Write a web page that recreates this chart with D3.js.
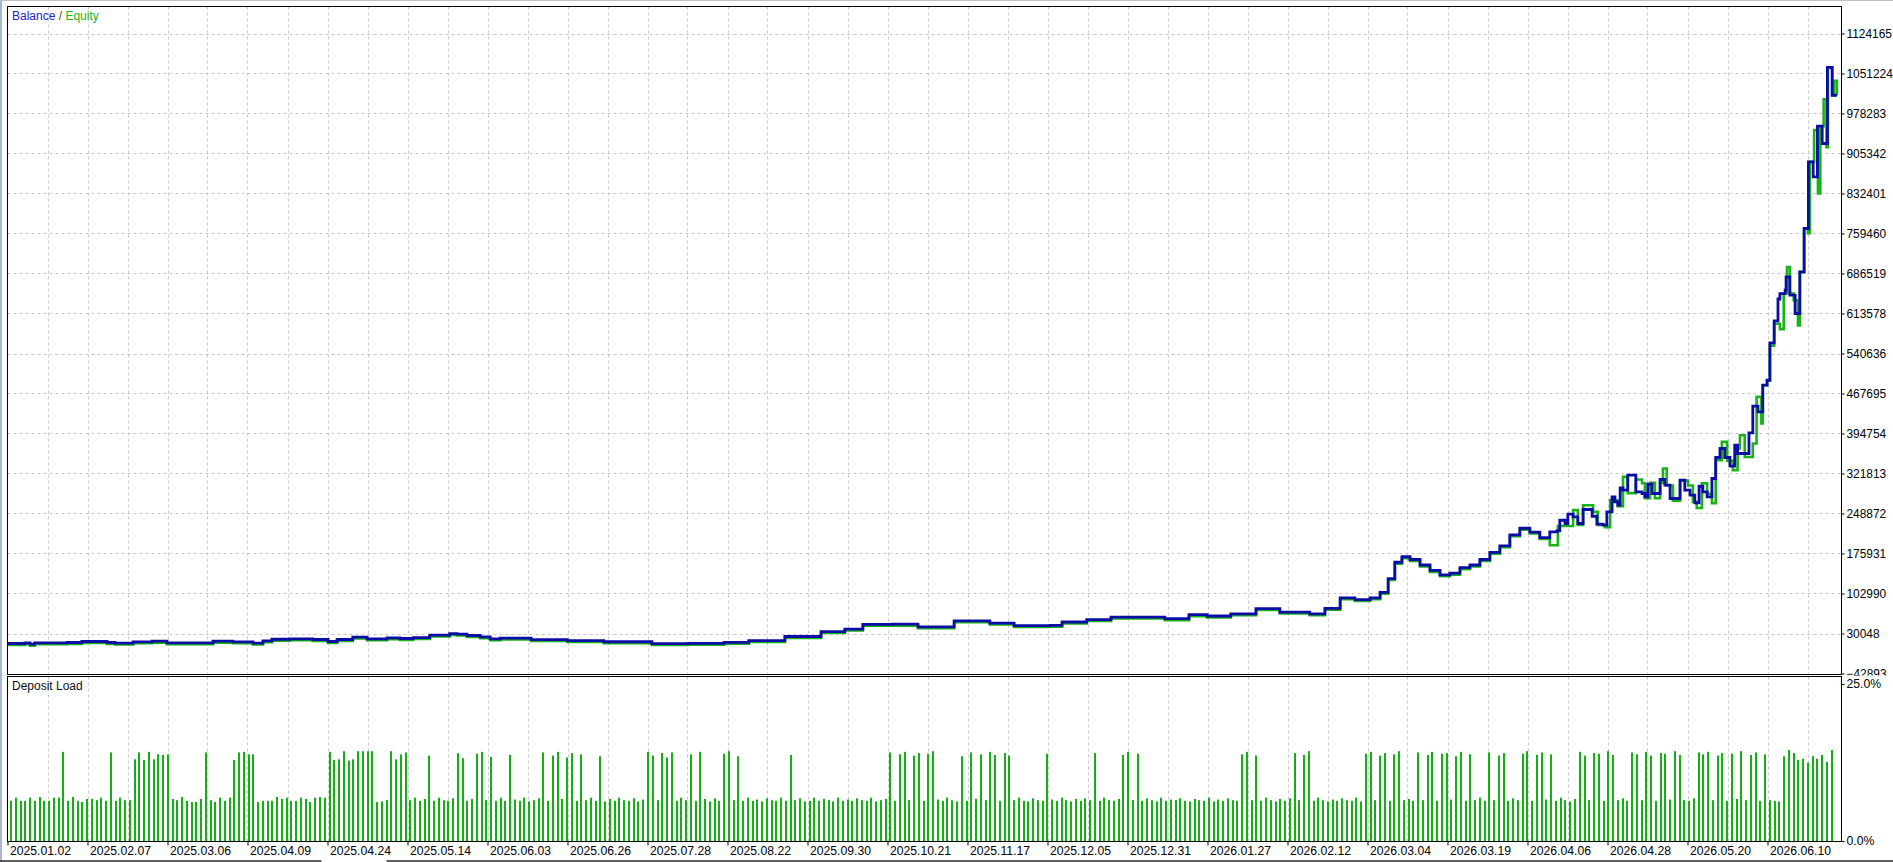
<!DOCTYPE html>
<html><head><meta charset="utf-8">
<script src="https://cdn.jsdelivr.net/npm/d3@7"></script>
<style>
html,body{margin:0;padding:0;background:#fff;overflow:hidden;}
svg{display:block;}
text{font-family:"Liberation Sans",Arial,sans-serif;}
</style></head><body>
<svg id="c" width="1893" height="862"></svg>
<script>
// ---------------- DATA ----------------
const dateLabels = ["2025.01.02","2025.02.07","2025.03.06","2025.04.09","2025.04.24","2025.05.14","2025.06.03","2025.06.26","2025.07.28","2025.08.22","2025.09.30","2025.10.21","2025.11.17","2025.12.05","2025.12.31","2026.01.27","2026.02.12","2026.03.04","2026.03.19","2026.04.06","2026.04.28","2026.05.20","2026.06.10"];
const valueTicks = [-42893,30048,102990,175931,248872,321813,394754,467695,540636,613578,686519,759460,832401,905342,978283,1051224,1124165];
const loadTicks = [0, 25];

// balance: trade position -> balance
const balT = [-0.8,2.9,4.0,5.0,11.8,14.9,20.2,21.9,25.7,29.7,
32.8,42.5,46.7,50.9,53.0,54.9,58.7,63.5,66.7,68.6,
71.9,74.9,79.1,81.8,84.6,88.1,92.3,93.8,95.9,98.7,
100.8,102.9,109.4,117.0,124.7,134.8,142.4,150.0,155.2,162.8,
170.4,175.4,179.2,185.5,190.8,198.4,205.9,211.0,218.6,221.1,
226.3,231.4,239.0,242.7,247.8,251.6,256.6,261.9,266.9,273.2,
276.4,279.6,282.7,285.9,288.0,289.7,291.1,292.6,294.3,296.4,
298.5,300.6,302.7,304.8,306.9,309.0,311.1,313.2,315.3,317.4,
319.5,321.6,323.7,325.2,325.8,326.9,327.5,328.6,329.6,330.7,
332.6,333.6,334.9,335.7,336.8,337.4,338.0,338.5,339.1,340.1,
341.8,343.1,343.7,344.3,345.2,346.9,347.9,349.0,351.1,352.1,
353.2,354.2,355.1,355.9,356.8,357.8,358.6,359.5,360.5,361.6,
362.6,363.2,365.6,366.4,367.5,368.5,369.4,370.0,370.9,371.7,
372.1,373.2,373.4,374.2,375.3,376.3,377.2,378.1,379.1,380.0,
381.0,382.1,383.1,384.1];
const balV = [11800,12900,10500,12900,13600,15500,13600,12400,14800,16000,
12900,16000,14800,12400,16600,19600,20200,19100,15500,19100,
23300,20200,22000,20900,22700,27000,30000,28800,26400,23900,
20200,21500,19000,17000,15000,11500,12000,14000,17000,24600,
33500,37900,46600,47000,42300,53200,49000,44400,45000,51000,
55500,59800,60000,57000,64300,62000,66000,75300,68900,66000,
76000,95000,92000,95000,105000,130000,160000,170000,165000,155000,
145000,137000,140000,150000,155000,165000,178000,190000,210000,222000,
215000,205000,215300,217100,236600,230600,247600,242700,230600,256200,
243900,229400,227500,251800,279100,270000,264000,295600,291400,318700,
288300,285300,279100,302300,285300,310900,300500,276200,309600,291400,
282200,268200,298600,288300,279100,312700,351000,367400,351000,335100,
373400,358300,395800,444500,434100,482800,491900,560000,600000,640000,
650000,656000,680300,647000,613600,689400,768600,890100,862700,955100,
923600,1062200,1011600,1011600];

// equity: trade position -> equity
const eqT = [-0.8,2.9,4.0,5.0,11.8,14.9,20.2,21.9,25.7,29.7,
32.8,42.5,46.7,50.9,53.0,54.9,58.7,63.5,66.7,68.6,
71.9,74.9,79.1,81.8,84.6,88.1,92.3,93.8,95.9,98.7,
100.8,102.9,109.4,117.0,124.7,134.8,142.4,150.0,155.2,162.8,
170.4,175.4,179.2,185.5,190.8,198.4,205.9,211.0,218.6,221.1,
226.3,231.4,239.0,242.7,247.8,251.6,256.6,261.9,266.9,273.2,
276.4,279.6,282.7,285.9,288.0,289.7,291.1,292.6,294.3,296.4,
298.5,300.6,302.7,304.8,306.9,309.0,311.1,313.2,315.3,317.4,
319.5,321.6,323.7,325.4,328.6,329.6,330.7,331.7,332.8,333.8,
335.3,336.4,338.0,339.1,340.1,341.8,343.1,343.7,344.8,345.8,
346.9,347.5,348.3,349.6,351.1,352.8,353.8,354.6,355.7,356.8,
357.8,358.6,359.9,361.0,362.2,363.2,363.7,364.7,366.4,367.2,
368.2,368.5,369.4,370.0,370.9,372.1,372.9,373.6,374.2,375.0,
375.9,376.3,377.2,378.0,378.4,379.3,380.1,380.6,381.3,381.9,
382.2,383.1,383.5,384.1];
const eqV = [9300,10400,8000,10400,11100,13000,11100,9900,12300,13500,
10400,13500,12300,9900,14100,17100,17700,16600,13000,16600,
20800,17700,19500,18400,20200,24500,27500,26300,23900,21400,
17700,19000,16500,14500,12500,9000,9500,11500,14500,22100,
31000,35400,44100,44500,39800,50700,46500,41900,42500,48500,
53000,57300,57500,54500,61800,59500,63500,72800,66400,63500,
73500,92500,89500,92500,102500,127500,157500,167500,162500,152500,
142500,134500,137500,147500,152500,162500,175500,187500,207500,219500,
212500,202500,191000,226000,255000,228000,264000,264000,251800,228000,
224000,273000,262000,315600,286000,311000,304000,276700,304700,276700,
305000,331000,300000,272000,309000,300000,270000,259000,304000,285000,
267600,346000,379400,345000,327800,367400,391600,352000,376500,461500,
413000,482800,491900,555000,595000,585000,650000,698500,650000,638000,
592000,689000,768600,760000,890000,948000,832500,955000,1004000,917000,
1062000,1011600,1038000,1011600];

// deposit load per trade, %
const load = [6.4,6.9,6.4,6.4,6.9,6.4,7.0,6.4,6.4,6.9,
6.9,14.2,6.4,7.0,6.4,6.2,6.7,6.7,6.5,6.9,
6.4,14.1,6.4,6.9,6.5,6.5,13.0,14.1,12.9,14.2,
13.0,13.8,13.7,13.8,6.7,6.5,7.0,6.4,6.2,6.2,
6.7,14.1,6.5,6.2,6.9,6.4,6.9,12.9,14.1,14.2,
13.8,13.8,6.2,6.4,6.4,6.4,7.0,6.7,6.9,6.4,
6.4,6.9,6.7,6.2,6.9,7.0,6.9,14.2,12.9,13.0,
14.3,12.8,13.0,14.3,14.3,14.3,14.3,6.2,6.3,6.5,
14.3,13.0,13.8,14.1,6.5,6.9,6.4,6.7,13.6,6.4,
6.9,6.5,6.4,6.8,14.0,13.2,6.4,6.7,13.9,14.2,
6.5,13.4,6.4,6.9,6.4,13.7,6.6,6.4,6.9,6.3,
6.5,6.8,14.1,6.4,13.6,14.2,6.7,13.3,14.0,6.4,
13.8,6.5,6.9,6.4,13.5,6.3,6.7,6.4,6.9,6.5,
6.4,6.8,6.3,6.6,14.2,13.6,6.5,14.0,13.3,14.1,
6.4,6.9,6.5,13.8,6.4,14.2,6.7,6.3,6.8,6.4,
13.9,14.3,6.5,13.5,6.4,6.9,6.4,6.6,6.3,6.8,
6.5,6.4,6.9,6.4,13.7,6.5,6.8,6.3,6.4,6.9,
6.4,6.7,6.5,6.3,6.9,6.4,6.6,6.4,6.8,6.5,
6.4,6.9,6.3,6.5,6.7,14.1,6.4,13.8,14.2,6.5,
13.6,14.0,6.4,13.9,14.3,6.6,6.4,6.9,6.5,6.3,
13.5,6.4,14.1,6.7,13.8,6.5,14.2,13.7,6.4,14.0,
13.6,6.5,6.9,6.4,6.3,6.8,6.5,6.4,13.9,6.6,
6.4,6.9,6.5,6.3,6.7,6.4,6.8,6.5,14.0,6.4,
6.9,6.5,6.4,6.7,13.7,14.2,6.5,13.9,6.4,6.8,
6.5,6.3,6.9,6.4,6.6,6.5,6.8,6.4,6.3,6.7,
6.5,6.4,6.9,6.3,6.6,6.4,6.8,6.5,6.4,13.8,
14.2,6.5,13.6,6.4,6.9,6.5,6.3,6.7,6.4,6.8,
14.0,6.5,13.7,14.3,6.4,6.9,6.5,6.3,6.6,6.4,
6.8,6.5,6.4,6.9,6.3,13.9,14.2,6.5,13.6,14.0,
6.4,13.8,14.3,6.5,6.7,6.4,14.1,6.5,13.7,14.2,
6.4,13.9,14.0,6.6,13.5,14.2,6.4,13.8,6.5,6.9,
6.4,14.1,6.5,13.6,14.0,6.4,6.8,6.5,13.9,14.3,
6.4,13.7,14.1,6.6,13.8,6.4,6.9,6.5,6.3,6.7,
14.2,13.6,6.5,14.0,13.9,6.4,14.3,13.7,6.5,6.8,
6.4,14.1,13.8,6.5,14.2,13.6,6.4,14.0,13.9,6.6,
14.3,13.7,6.5,6.4,6.8,14.1,13.8,14.2,6.5,13.6,
14.0,6.4,13.9,6.7,14.3,6.5,13.7,14.1,6.4,13.8,
6.5,6.4,6.3,13.5,14.5,14.0,12.9,13.1,12.5,13.5,
13.1,13.7,12.6,14.5];

// ---------------- LAYOUT ----------------
const svg = d3.select('#c');
const L = 7.5, R = 1841.5, T1 = 6.5, B1 = 674.5, T2 = 676.5, B2 = 841.5;
const GRID = '#c8c8c8';
const FONT = 12.2;
const FONT_R = 11.9;
const FF = '"Liberation Sans",Arial,sans-serif';

const x = d3.scaleLinear().domain([0, load.length - 1]).range([11, 1831.7]);
const y = d3.scaleLinear().domain([valueTicks[0], valueTicks[valueTicks.length - 1]]).range([673.5, 33.5]);
const yL = d3.scaleLinear().domain([0, 25]).range([841, 684]);

// outer window decorations
svg.append('rect').attr('x', 0).attr('y', 0).attr('width', 1893).attr('height', 862).attr('fill', '#fff');
svg.append('line').attr('x1', 0).attr('x2', 1893).attr('y1', 0.5).attr('y2', 0.5).attr('stroke', '#c0c0c0');
svg.append('rect').attr('x', 0).attr('y', 0).attr('width', 2).attr('height', 862).attr('fill', '#a9b6cb');
svg.append('line').attr('x1', 0).attr('x2', 321.5).attr('y1', 861).attr('y2', 861).attr('stroke', '#2a2a2a').attr('stroke-width', 1.5);
svg.append('line').attr('x1', 386.5).attr('x2', 1893).attr('y1', 861).attr('y2', 861).attr('stroke', '#2a2a2a').attr('stroke-width', 1.5);

// clip paths
const defs = svg.append('defs');
defs.append('clipPath').attr('id', 'clipMain').append('rect').attr('x', L).attr('y', T1).attr('width', R - L).attr('height', B1 - T1);
defs.append('clipPath').attr('id', 'clipAxis').append('rect').attr('x', R).attr('y', 0).attr('width', 60).attr('height', 675.5);

// x tick positions (MT5 places date labels at fixed pixel steps)
const tickT = d3.range(dateLabels.length).map(k => x.invert(L + 80 * k));

// vertical grid (every half label step)
const gridT = d3.range(1, 46).map(k => x.invert(L + 40 * k)).filter(t => x(t) < R - 1);
[[T1, B1], [T2, B2]].forEach(([a, b]) => {
  svg.append('g').selectAll('line').data(gridT).join('line')
    .attr('x1', d => Math.round(x(d)) + 0.5).attr('x2', d => Math.round(x(d)) + 0.5)
    .attr('y1', a).attr('y2', b)
    .attr('stroke', GRID).attr('stroke-dasharray', '3,3');
});
// horizontal grid
svg.append('g').selectAll('line').data(valueTicks.slice(1)).join('line')
  .attr('x1', L).attr('x2', R)
  .attr('y1', d => Math.round(y(d)) + 0.5).attr('y2', d => Math.round(y(d)) + 0.5)
  .attr('stroke', GRID).attr('stroke-dasharray', '3,3');

// equity and balance lines
const gLines = svg.append('g').attr('clip-path', 'url(#clipMain)');
const eqData = eqT.map((t, i) => [t, eqV[i]]);
const balData = balT.map((t, i) => [t, balV[i]]);
gLines.append('path').datum(eqData)
  .attr('d', d3.line().x(d => x(d[0])).y(d => y(d[1])).curve(d3.curveStepAfter))
  .attr('fill', 'none').attr('stroke', '#17b317').attr('stroke-width', 2.6);
gLines.append('path').datum(balData)
  .attr('d', d3.line().x(d => x(d[0])).y(d => y(d[1])).curve(d3.curveStepAfter))
  .attr('fill', 'none').attr('stroke', '#0c0ca6').attr('stroke-width', 2.8);

// deposit load bars
svg.append('g').selectAll('rect').data(load).join('rect')
  .attr('x', (d, i) => Math.round(x(i)) - 1).attr('width', 2)
  .attr('y', d => yL(d)).attr('height', d => yL(0) - yL(d))
  .attr('fill', '#12b012');

// panel frames
svg.append('rect').attr('x', L).attr('y', T1).attr('width', R - L).attr('height', B1 - T1).attr('fill', 'none').attr('stroke', '#000');
svg.append('rect').attr('x', L).attr('y', T2).attr('width', R - L).attr('height', B2 - T2).attr('fill', 'none').attr('stroke', '#000');

// right value axis (clipped at the panel boundary like the original)
const axR = svg.append('g').attr('clip-path', 'url(#clipAxis)')
  .append('g').attr('transform', `translate(${R},0)`)
  .call(d3.axisRight(y).tickValues(valueTicks).tickSize(3).tickPadding(2).tickFormat(d3.format('d')));
axR.select('.domain').remove();
axR.selectAll('text').attr('font-size', FONT_R).attr('fill', '#000').attr('font-family', FF);
axR.selectAll('line').attr('stroke', '#000');

// deposit load axis
const axL = svg.append('g').attr('transform', `translate(${R},0)`)
  .call(d3.axisRight(yL).tickValues(loadTicks).tickSize(3).tickPadding(2).tickFormat(d => d.toFixed(1) + '%'));
axL.select('.domain').remove();
axL.selectAll('text').attr('font-size', FONT).attr('fill', '#000').attr('font-family', FF);
axL.selectAll('line').attr('stroke', '#000');

// bottom date axis
const axB = svg.append('g').attr('transform', `translate(0,${B2})`)
  .call(d3.axisBottom(x).tickValues(tickT).tickSize(4).tickFormat((d, i) => dateLabels[i]));
axB.select('.domain').remove();
axB.selectAll('.tick line').attr('stroke', '#000');
axB.selectAll('text').attr('font-size', FONT).attr('fill', '#000').attr('text-anchor', 'start')
  .attr('dx', 2).attr('y', 4.5).attr('dy', '0.71em').attr('font-family', FF);

// titles
const title = svg.append('text').attr('x', 12).attr('y', 17).attr('dominant-baseline', 'middle').attr('font-size', 12).attr('font-family', FF);
title.append('tspan').text('Balance').attr('fill', '#2323c8');
title.append('tspan').text(' / ').attr('fill', '#6b3d0e');
title.append('tspan').text('Equity').attr('fill', '#17b317');
svg.append('text').attr('x', 12).attr('y', 687).attr('dominant-baseline', 'middle').attr('font-size', 12).attr('font-family', FF).attr('fill', '#111').text('Deposit Load');
</script>
</body></html>
